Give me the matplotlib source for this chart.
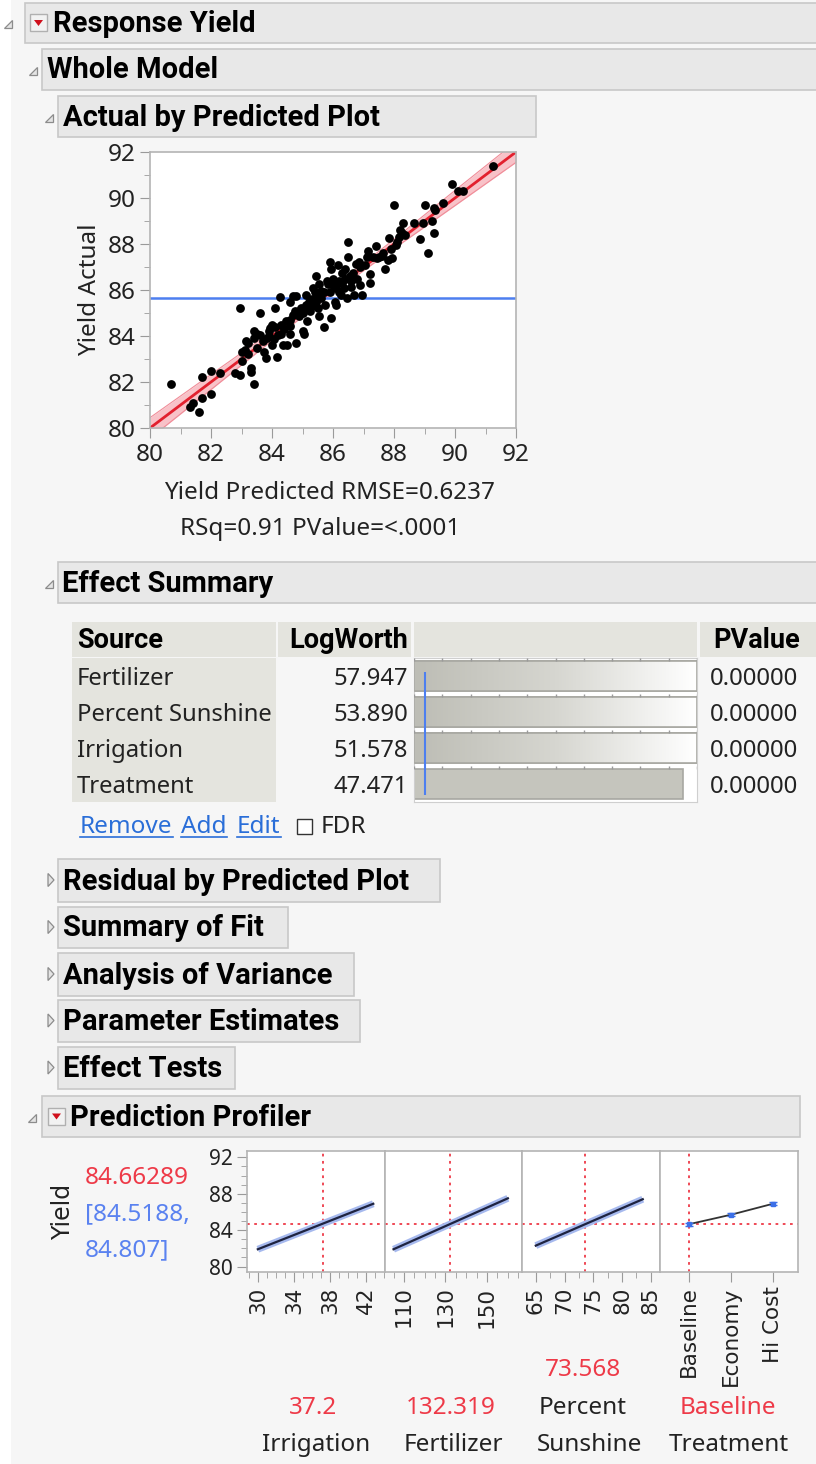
import matplotlib
matplotlib.use("Agg")
import matplotlib.pyplot as plt
import numpy as np
from matplotlib.patches import Rectangle, Polygon
from matplotlib.ticker import MultipleLocator, FixedLocator
from matplotlib.colors import LinearSegmentedColormap

W, H = 816, 1464
BODY = ["Noto Sans", "DejaVu Sans"]
HEAD = ["Roboto", "DejaVu Sans"]
WIDE = ["DejaVu Sans"]
plt.rcParams["font.family"] = BODY

# ---------------- data ----------------
# Actual by Predicted: (predicted, actual)
yield_points = [
    (80.7, 81.9), (81.3, 80.9), (81.4, 81.1), (81.6, 80.7), (81.7, 81.3), (81.7, 82.2),
    (82.0, 82.5), (82.0, 81.5), (82.3, 82.4), (82.95, 85.2), (82.8, 82.4), (82.95, 82.3),
    (83.0, 82.9), (83.0, 83.3), (83.1, 83.4), (83.15, 83.8), (83.2, 83.2), (83.3, 82.6),
    (83.3, 82.45), (83.4, 81.9), (83.4, 84.2), (83.5, 83.5), (83.6, 85.0), (83.6, 84.05),
    (83.7, 83.8), (83.75, 83.3), (83.8, 83.05), (83.85, 83.9), (83.9, 84.2), (83.95, 84.35),
    (84.0, 83.6), (84.05, 83.85), (84.15, 83.1), (84.1, 85.2), (84.2, 84.05), (84.25, 85.7),
    (84.3, 84.5), (84.3, 84.1), (84.35, 83.6), (84.45, 84.65), (84.5, 83.6), (84.6, 85.5),
    (84.6, 84.45), (84.6, 84.1), (84.7, 85.75), (84.75, 85.1), (84.8, 83.7), (84.8, 85.75),
    (84.9, 84.85), (84.95, 85.2), (85.0, 84.2), (85.05, 84.1), (85.1, 85.8), (85.1, 85.35),
    (85.15, 84.65), (85.2, 85.5), (85.25, 85.1), (85.35, 86.1), (85.4, 85.9), (85.45, 85.5),
    (85.45, 86.6), (85.5, 85.2), (85.55, 84.85), (85.55, 86.25), (85.6, 85.65), (85.6, 85.95),
    (85.7, 84.4), (85.75, 85.35), (85.85, 86.25), (85.9, 87.2), (85.9, 85.9), (85.95, 86.9),
    (85.95, 84.8), (86.0, 86.5), (86.05, 85.5), (86.1, 86.1), (86.1, 85.35), (86.15, 87.1),
    (86.2, 86.4), (86.25, 85.8), (86.3, 86.75), (86.35, 86.1), (86.4, 86.5), (86.45, 85.65),
    (86.5, 88.1), (86.5, 87.45), (86.55, 86.6), (86.6, 86.15), (86.65, 86.75), (86.7, 85.8),
    (86.75, 87.15), (86.8, 86.5), (86.85, 87.2), (86.9, 86.2), (86.95, 85.8), (87.05, 87.1),
    (87.1, 87.45), (87.15, 87.7), (87.2, 86.7), (87.2, 86.3), (87.3, 87.45), (87.4, 87.9),
    (87.45, 87.4), (87.5, 87.45), (87.65, 87.6), (87.7, 86.9), (87.8, 87.3), (87.85, 88.25),
    (87.9, 87.8), (87.95, 87.4), (88.0, 89.7), (88.05, 87.95), (88.1, 88.1), (88.15, 88.3),
    (88.2, 88.6), (88.25, 88.5), (88.3, 88.9), (88.35, 88.4), (88.65, 88.9), (88.85, 88.2),
    (88.95, 88.9), (89.0, 89.7), (89.1, 87.6), (89.25, 89.0), (89.3, 88.5), (89.3, 89.55),
    (89.35, 89.5), (89.6, 89.8), (89.9, 90.6), (90.1, 90.3), (90.25, 90.3), (91.25, 91.4),
    (83.2, 83.7), (83.4, 83.9), (83.9, 84.0), (84.1, 84.4), (84.4, 84.3), (84.9, 85.1),
    (85.2, 85.2), (85.3, 85.6), (85.7, 85.9), (86.0, 86.2), (86.2, 85.9), (86.3, 86.3),
    (86.6, 86.4), (84.6, 84.7), (85.0, 85.0), (85.5, 85.8), (85.8, 86.4), (83.5, 84.1),
    (84.0, 84.5), (84.7, 84.9), (85.3, 85.3), (86.4, 86.9), (86.9, 87.0), (87.6, 87.5),
]
yield_mean = 85.65
fit_x = [80, 92]
fit_y = [80, 92]
band_x = [80, 82, 84, 86, 88, 90, 92]
band_halfwidth = [0.45, 0.33, 0.2, 0.12, 0.2, 0.33, 0.45]
fit_caption = ["Yield Predicted RMSE=0.6237", "RSq=0.91 PValue=<.0001"]

sources = ["Fertilizer", "Percent Sunshine", "Irrigation", "Treatment"]
logworth = [57.947, 53.890, 51.578, 47.471]
pvalues = ["0.00000", "0.00000", "0.00000", "0.00000"]
logworth_scale_max = 50
logworth_ref = 2

closed_sections = ["Residual by Predicted Plot", "Summary of Fit", "Analysis of Variance",
                   "Parameter Estimates", "Effect Tests"]

pred_value = "84.66289"
pred_ci = ["[84.5188,", "84.807]"]
irr_x, irr_y = [30.0, 42.8], [81.9, 86.9]
fert_x, fert_y = [105, 160], [81.9, 87.5]
sun_x, sun_y = [65, 83.6], [82.3, 87.4]
irr_ticks = [30, 34, 38, 42]
fert_ticks = [110, 130, 150]
sun_ticks = [65, 70, 75, 80, 85]
treat_levels = ["Baseline", "Economy", "Hi Cost"]
treat_y = [84.66, 85.7, 86.9]
current_irr, current_fert, current_sun, current_treat = 37.2, 132.319, 73.568, 0
current_yield = 84.66289
current_labels = ["37.2", "132.319", "73.568", "Baseline"]

# ---------------- page ----------------
fig = plt.figure(figsize=(W / 100, H / 100), dpi=100, facecolor="#f6f6f6")
bg = fig.add_axes([0, 0, 1, 1])
bg.set_xlim(0, W)
bg.set_ylim(H, 0)
bg.axis("off")
bg.add_patch(Rectangle((0, 0), 11, H, fc="white", ec="none"))


def px_axes(x0, y0, x1, y1):
    return fig.add_axes([x0 / W, 1 - y1 / H, (x1 - x0) / W, (y1 - y0) / H])


def header(x0, y0, x1, y1, title, tri_x, is_open=True, popup_x=None, text_x=None, size=21):
    bg.add_patch(Rectangle((x0, y0), x1 - x0, y1 - y0, fc="#e8e8e8", ec="#c8c8c8", lw=1.2))
    yc = (y0 + y1) / 2
    if is_open:
        tri = [(tri_x, yc + 5), (tri_x + 8, yc + 5), (tri_x + 8, yc - 3)]
    else:
        tri = [(tri_x, yc - 7), (tri_x, yc + 6), (tri_x + 6, yc - 0.5)]
    bg.add_patch(Polygon(tri, closed=True, fc="#e4e4e4", ec="#8c8c8c", lw=0.9))
    if popup_x is not None:
        bg.add_patch(Rectangle((popup_x, yc - 9), 17, 17, fc="#f2f2f2", ec="#b0b0b0", lw=1))
        bg.add_patch(Polygon([(popup_x + 4, yc - 3), (popup_x + 13, yc - 3), (popup_x + 8.5, yc + 3)],
                             closed=True, fc="#d0101c", ec="none"))
    bg.text(text_x, yc + 1, title, fontsize=size, fontweight="bold", family=HEAD,
            va="center", ha="left", color="black")


header(25, 3, 830, 43, "Response Yield", 4, popup_x=30, text_x=53)
header(42, 49, 830, 90, "Whole Model", 29, text_x=47)
header(58, 96, 536, 137, "Actual by Predicted Plot", 45, text_x=63)

# ---------------- Actual by Predicted ----------------
ax = px_axes(150, 152, 516, 428)
ax.set_facecolor("white")
px, ay = zip(*yield_points)
lo = np.array(band_x) - band_halfwidth
hi = np.array(band_x) + band_halfwidth
ax.fill_between(band_x, lo, hi, color="#f7b3bb", alpha=0.8, lw=0, zorder=1)
ax.plot(band_x, lo, color="#f08c98", lw=0.8, zorder=1)
ax.plot(band_x, hi, color="#f08c98", lw=0.8, zorder=1)
ax.plot(fit_x, fit_y, color="#e2202e", lw=2, zorder=2)
ax.axhline(yield_mean, color="#4d7ff0", lw=1.8, zorder=2)
ax.scatter(px, ay, s=40, color="black", zorder=3, lw=0)
ax.set_xlim(80, 92)
ax.set_ylim(80, 92)
ax.xaxis.set_major_locator(MultipleLocator(2))
ax.yaxis.set_major_locator(MultipleLocator(2))
ax.xaxis.set_minor_locator(MultipleLocator(1))
ax.yaxis.set_minor_locator(MultipleLocator(1))
ax.tick_params(which="both", color="#9a9a9a", labelsize=17.5, labelcolor="#222222")
ax.tick_params(which="major", length=7)
ax.tick_params(which="minor", length=4)
for s in ax.spines.values():
    s.set_color("#b4b4b4")
    s.set_linewidth(1.2)
ax.set_ylabel("Yield Actual", fontsize=17.5, color="#222222", labelpad=4)
bg.text(330, 493, fit_caption[0], fontsize=17.5, ha="center", va="center", color="#222222")
bg.text(320, 529, fit_caption[1], fontsize=17.5, ha="center", va="center", color="#222222")

# ---------------- Effect Summary ----------------
header(58, 562, 830, 603, "Effect Summary", 45, text_x=62)
cell = "#e4e4de"
row_top, row_h = 658, 36
bg.add_patch(Rectangle((72, 622), 204, 35, fc=cell, ec="none"))
bg.add_patch(Rectangle((278, 622), 133, 35, fc=cell, ec="none"))
bg.add_patch(Rectangle((414, 622), 283, 35, fc=cell, ec="none"))
bg.add_patch(Rectangle((700, 622), 116, 35, fc=cell, ec="none"))
bg.add_patch(Rectangle((72, row_top), 204, row_h * len(sources), fc=cell, ec="none"))
bg.text(77, 641, "Source", fontsize=19.5, fontweight="bold", family=HEAD, va="center")
bg.text(408, 641, "LogWorth", fontsize=19.5, fontweight="bold", family=HEAD, va="center", ha="right")
bg.text(800, 641, "PValue", fontsize=19.5, fontweight="bold", family=HEAD, va="center", ha="right")
for i, (src, lw_, pv) in enumerate(zip(sources, logworth, pvalues)):
    yc = row_top + row_h * i + row_h / 2 + 3
    bg.text(77, yc, src, fontsize=17.2, va="center", color="#222222")
    bg.text(408, yc, "%.3f" % lw_, fontsize=17.2, va="center", ha="right", color="#222222")
    bg.text(798, yc, pv, fontsize=17.2, va="center", ha="right", color="#222222")

bax = px_axes(414, row_top, 697, row_top + row_h * len(sources))
bax.set_facecolor("white")
bax.set_xlim(0, logworth_scale_max)
bax.set_ylim(len(sources) - 0.5, -0.5)
grad = np.linspace(0, 1, 256).reshape(1, -1)
gcmap = LinearSegmentedColormap.from_list("g", ["#bdbdb5", "#d6d6d0", "#ffffff"])
bars = bax.barh(range(len(sources)), np.minimum(logworth, logworth_scale_max), height=0.84,
                color="#c5c5bd", edgecolor="#a8a8a2", lw=1.2, zorder=2)
for i, (b, v) in enumerate(zip(bars, logworth)):
    if v > logworth_scale_max:
        im = bax.imshow(grad, cmap=gcmap, aspect="auto", zorder=2.5,
                        extent=[0, logworth_scale_max, i + 0.42, i - 0.42])
        im.set_clip_path(b)
        bax.barh(i, logworth_scale_max, height=0.84, fc="none", edgecolor="#a8a8a2", lw=1.2, zorder=3)
    bax.vlines(np.arange(0, logworth_scale_max + 1, 5), i - 0.5, i - 0.42, color="#9a9a9a", lw=1, zorder=4)
bax.vlines(logworth_ref, -0.1, 3.3, color="#4d7ff0", lw=1.5, zorder=5)
bax.set_xticks([])
bax.set_yticks([])
for s in bax.spines.values():
    s.set_color("#cfcfcf")

links = []
for word, lx in zip(["Remove", "Add", "Edit"], [80, 181, 237]):
    links.append(bg.text(lx, 827, word, fontsize=17.5, color="#2a6ed8", va="center"))
bg.add_patch(Rectangle((297, 819), 15, 15, fc="white", ec="#333333", lw=1))
bg.text(321, 827, "FDR", fontsize=17.5, va="center", color="#222222")

# ---------------- collapsed sections ----------------
closed_boxes = [(859, 902, 440), (907, 948, 288), (953, 996, 354), (1000, 1042, 360), (1047, 1089, 235)]
for title, (y0, y1, x1) in zip(closed_sections, closed_boxes):
    header(58, y0, x1, y1, title, 48, is_open=False, text_x=63)

# ---------------- Prediction Profiler ----------------
header(42, 1096, 800, 1137, "Prediction Profiler", 28, popup_x=48, text_x=70)

py0, py1 = 1151, 1272
panels = [(247, 385), (385, 522), (522, 660), (660, 798)]
axs = [px_axes(x0, py0, x1, py1) for x0, x1 in panels]
red = "#ee3a48"
for a in axs:
    a.set_facecolor("white")
    a.set_ylim(79.4, 92.7)
    for s in a.spines.values():
        s.set_color("#b4b4b4")
        s.set_linewidth(1.2)
    a.axhline(current_yield, color=red, lw=1.3, ls=(0, (1.5, 2.5)), zorder=1)
    a.tick_params(which="both", color="#9a9a9a", labelcolor="#222222")
    a.tick_params(which="major", length=7)
    a.tick_params(which="minor", length=4)

profiles = [(irr_x, irr_y, current_irr, (28.8, 44.1), irr_ticks, 1),
            (fert_x, fert_y, current_fert, (100.9, 166.8), fert_ticks, 5),
            (sun_x, sun_y, current_sun, (62.6, 86.6), sun_ticks, 2.5)]
for a, (xs, ys, cur, lim, ticks, mnr) in zip(axs[:3], profiles):
    a.plot(xs, ys, color="#a6b9ee", lw=5, solid_capstyle="butt", zorder=2)
    a.plot(xs, ys, color="#1e2340", lw=1.6, zorder=3)
    a.axvline(cur, color=red, lw=1.3, ls=(0, (1.5, 2.5)), zorder=1)
    a.set_xlim(*lim)
    a.xaxis.set_major_locator(FixedLocator(ticks))
    a.xaxis.set_minor_locator(MultipleLocator(mnr))

ta = axs[3]
ta.plot(range(len(treat_levels)), treat_y, color="#333333", lw=1.3, zorder=3)
ta.errorbar(range(len(treat_levels)), treat_y, yerr=0.15, fmt="s", ms=3.5, color="#3b6fe8",
            ecolor="#3b6fe8", elinewidth=1, capsize=3, zorder=4)
ta.axvline(current_treat, color=red, lw=1.3, ls=(0, (1.5, 2.5)), zorder=1)
ta.set_xlim(-0.7, 2.6)
ta.set_xticks(range(len(treat_levels)))
ta.set_xticklabels(treat_levels)

for a in axs:
    a.yaxis.set_major_locator(FixedLocator([80, 84, 88, 92]))
    a.yaxis.set_minor_locator(MultipleLocator(1))
    a.tick_params(axis="x", labelrotation=90)
    for lab in a.get_xticklabels():
        lab.set_family(WIDE)
        lab.set_fontsize(15.5)
axs[0].tick_params(axis="y", labelsize=15)
for a in axs[1:]:
    a.tick_params(axis="y", which="both", left=False, labelleft=False)

bg.text(63, 1212, "Yield", fontsize=17, rotation=90, family=WIDE, va="center", ha="center", color="#222222")
bg.text(85, 1178, pred_value, fontsize=17.5, color=red, va="center")
bg.text(85, 1214, pred_ci[0], fontsize=17.5, color="#5a82f0", va="center")
bg.text(85, 1250, pred_ci[1], fontsize=17.5, color="#5a82f0", va="center")

bg.text(313, 1408, current_labels[0], fontsize=17.5, color=red, ha="center", va="center")
bg.text(451, 1408, current_labels[1], fontsize=17.5, color=red, ha="center", va="center")
bg.text(583, 1370, current_labels[2], fontsize=17.5, color=red, ha="center", va="center")
bg.text(728, 1408, current_labels[3], fontsize=17.5, color=red, ha="center", va="center")
bg.text(316, 1445, "Irrigation", fontsize=17.5, ha="center", va="center", color="#222222")
bg.text(453, 1445, "Fertilizer", fontsize=17.5, ha="center", va="center", color="#222222")
bg.text(583, 1408, "Percent", fontsize=17.5, ha="center", va="center", color="#222222")
bg.text(589, 1445, "Sunshine", fontsize=17.5, ha="center", va="center", color="#222222")
bg.text(729, 1445, "Treatment", fontsize=17.5, ha="center", va="center", color="#222222")

# underline the links
fig.canvas.draw()
inv = bg.transData.inverted()
for t in links:
    bb = t.get_window_extent()
    (lx0, ly0), (lx1, ly1) = inv.transform([(bb.x0, bb.y0), (bb.x1, bb.y1)])
    bg.plot([lx0, lx1], [ly0 - 2, ly0 - 2], color="#2a6ed8", lw=1.2)

fig.savefig("out.png", dpi=100, facecolor=fig.get_facecolor())
